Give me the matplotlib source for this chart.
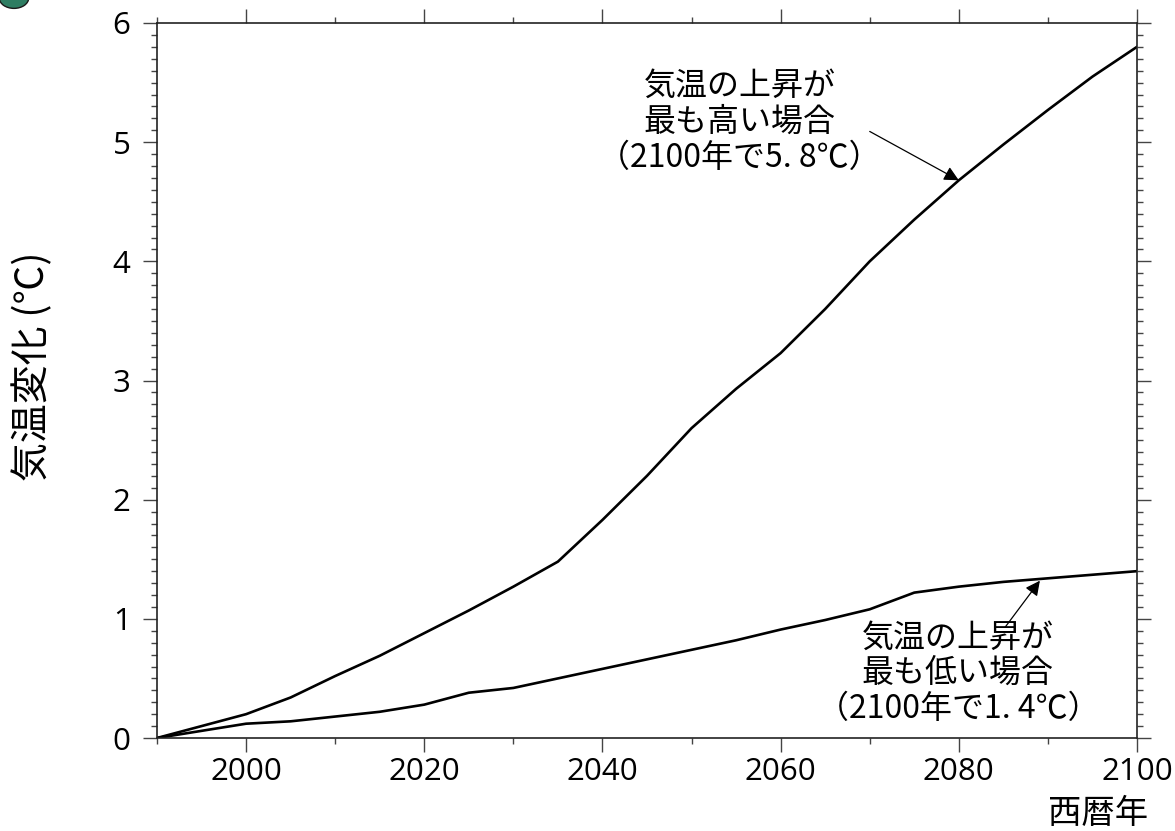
import matplotlib
matplotlib.use("Agg")
import matplotlib.pyplot as plt
from matplotlib.ticker import MultipleLocator
from matplotlib.patches import Circle

plt.rcParams['font.family'] = ['Noto Sans CJK JP', 'DejaVu Sans']

# Projected global temperature change (°C) relative to 1990
years = [1990, 2000, 2005, 2010, 2015, 2020, 2025, 2030, 2035, 2040, 2045,
         2050, 2055, 2060, 2065, 2070, 2075, 2080, 2085, 2090, 2095, 2100]
high_case = [0.0, 0.20, 0.34, 0.52, 0.69, 0.88, 1.07, 1.27, 1.48, 1.83, 2.20,
             2.60, 2.93, 3.23, 3.60, 4.00, 4.35, 4.68, 4.98, 5.27, 5.55, 5.80]
low_case = [0.0, 0.12, 0.14, 0.18, 0.22, 0.28, 0.38, 0.42, 0.50, 0.58, 0.66,
            0.74, 0.82, 0.91, 0.99, 1.08, 1.22, 1.27, 1.31, 1.34, 1.37, 1.40]

x_ticks = [2000, 2020, 2040, 2060, 2080, 2100]
y_ticks = [0, 1, 2, 3, 4, 5, 6]

high_label = "気温の上昇が\n最も高い場合\n（2100年で5. 8℃）"
low_label = "気温の上昇が\n最も低い場合\n（2100年で1. 4℃）"

fig = plt.figure(figsize=(11.75, 8.31), dpi=100)
ax = fig.add_axes([157 / 1175, 93 / 831, 980 / 1175, 715 / 831])

ax.plot(years, high_case, color='black', lw=1.9, solid_joinstyle='miter')
ax.plot(years, low_case, color='black', lw=1.9, solid_joinstyle='miter')

ax.set_xlim(1990, 2100)
ax.set_ylim(0, 6)
ax.set_xticks(x_ticks)
ax.set_yticks(y_ticks)
ax.xaxis.set_minor_locator(MultipleLocator(10))
ax.yaxis.set_minor_locator(MultipleLocator(0.1))
for lab in ax.get_xticklabels() + ax.get_yticklabels():
    lab.set_family(['Open Sans', 'DejaVu Sans'])
    lab.set_fontsize(22.5)
    lab.set_fontweight(500)

ax.tick_params(which='both', direction='out', top=True, right=True,
               color='#444444', width=1.0)
ax.tick_params(which='major', length=10)
ax.tick_params(which='minor', length=4)
ax.tick_params(axis='x', which='major', pad=4)
ax.tick_params(axis='y', which='major', pad=9)
for s in ax.spines.values():
    s.set_color('#222222')
    s.set_linewidth(1.2)

fig.text(33 / 1175, 1 - 366 / 831, "気温変化 (℃)", rotation=90,
         ha='center', va='center', fontsize=28)
fig.text(1148 / 1175, 1 - 813 / 831, "西暦年", ha='right', va='center',
         fontsize=24)

# annotation texts
ax.text(2055.4, 5.17, high_label, ha='center', va='center', fontsize=23,
        linespacing=1.15)
ax.text(2079.9, 0.545, low_label, ha='center', va='center', fontsize=23,
        linespacing=1.15)

# arrows pointing at the curves
arrow = dict(arrowstyle='-|>', color='black', lw=0.9,
             mutation_scale=22, shrinkA=0, shrinkB=0)
ax.annotate("", xy=(2080, 4.68), xytext=(2070.0, 5.09), arrowprops=arrow)
ax.annotate("", xy=(2089.1, 1.32), xytext=(2085.2, 0.93), arrowprops=arrow)

# decorative bullet in the corner
fig.patches.append(Circle((14 / 1175, 1 + 2 / 831), 0.0125, transform=fig.transFigure,
                          facecolor='#2e7d62', edgecolor='#1a1a1a', lw=1.0))

fig.savefig('out.png', dpi=100)
